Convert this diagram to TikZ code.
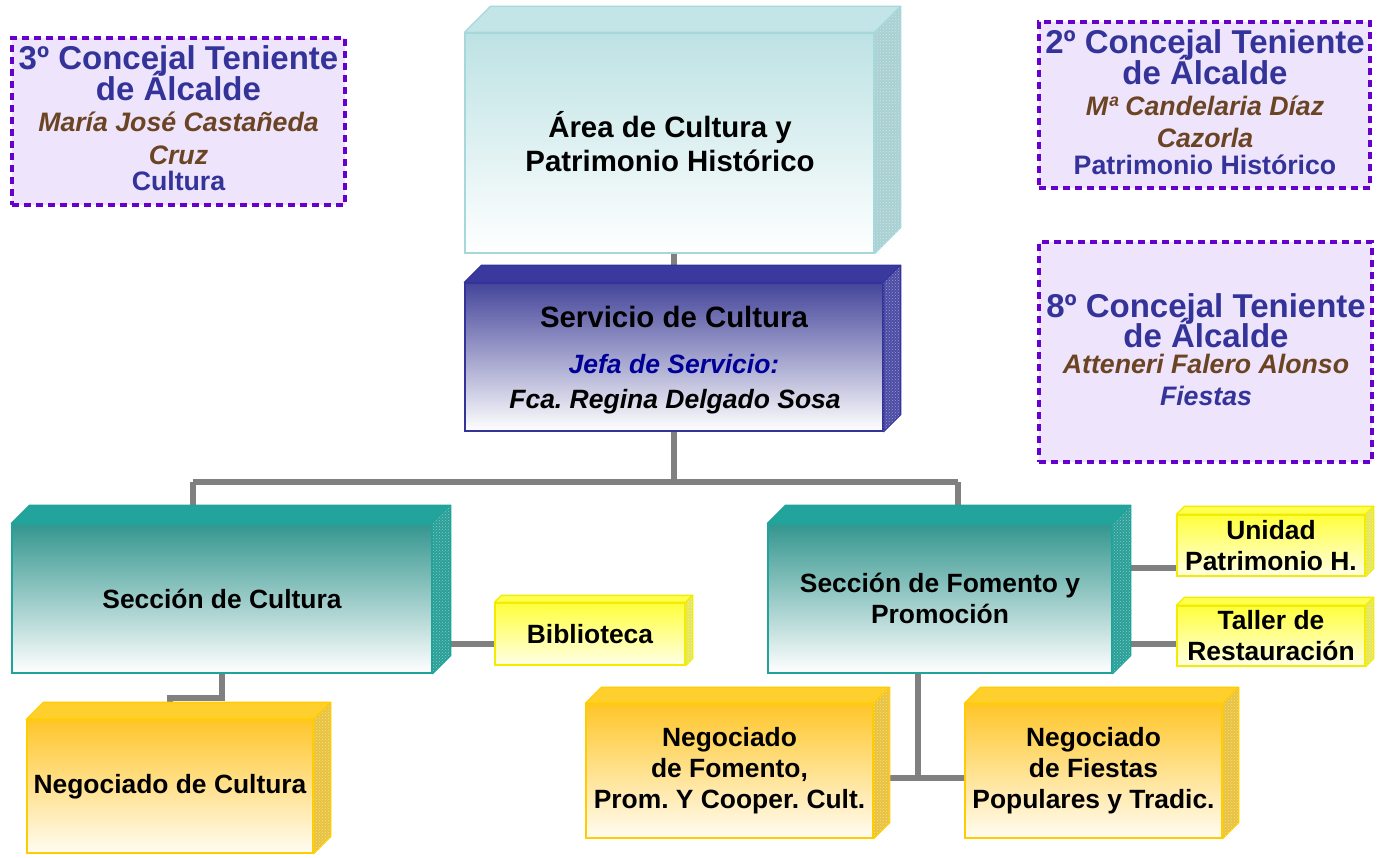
\documentclass[tikz,border=0pt]{standalone}
\usepackage{fontspec}
\setmainfont{Liberation Sans}
\usetikzlibrary{calc,patterns}
\pgfdeclarelayer{bg}
\pgfsetlayers{bg,main}
\frenchspacing
\definecolor{ttlblue}{HTML}{333399}
\definecolor{nmbrown}{HTML}{6B4423}
\definecolor{jefablue}{HTML}{000099}
\definecolor{dashpurple}{HTML}{6600CC}
\definecolor{lav}{HTML}{EEE4FC}
\definecolor{conngray}{HTML}{808080}
% area
\definecolor{areaTop}{HTML}{BDE2E4}
\definecolor{areaFace}{HTML}{C4E5E7}
\definecolor{areaSide}{HTML}{A9D0D2}
\definecolor{areaLine}{HTML}{A6D8DB}
% servicio
\definecolor{servTop}{HTML}{45459B}
\definecolor{servFace}{HTML}{3A3A9E}
\definecolor{servSide}{HTML}{4C4CA6}
\definecolor{servLine}{HTML}{333399}
% seccion
\definecolor{secTop}{HTML}{34968F}
\definecolor{secFace}{HTML}{22A39B}
\definecolor{secSide}{HTML}{2A9F98}
\definecolor{secLine}{HTML}{1FA39B}
% gold
\definecolor{goldTop}{HTML}{FFC62A}
\definecolor{goldBot}{HTML}{FFFCF2}
\definecolor{goldFace}{HTML}{FFCF2E}
\definecolor{goldSide}{HTML}{E9C23E}
\definecolor{goldLine}{HTML}{FFCC00}
% yellow
\definecolor{yelTop}{HTML}{FFFF3C}
\definecolor{yelBot}{HTML}{FFFFE6}
\definecolor{yelFace}{HTML}{FFFF50}
\definecolor{yelSide}{HTML}{E6E65A}
\definecolor{yelLine}{HTML}{F2EC00}

\newcommand{\cubefaces}[5]{%
  \filldraw[fill=#3,draw=#5,line width=1.3pt,line join=round]
    (#1.north west) -- ++(#2,-#2) -- ($(#1.north east)+(#2,-#2)$) -- (#1.north east) -- cycle;
  \filldraw[fill=#4,draw=#5,line width=1.3pt,line join=round]
    (#1.north east) -- ++(#2,-#2) -- ($(#1.south east)+(#2,-#2)$) -- (#1.south east) -- cycle;
  \fill[pattern=crosshatch dots,pattern color=white,opacity=0.45]
    (#1.north east) -- ++(#2,-#2) -- ($(#1.south east)+(#2,-#2)$) -- (#1.south east) -- cycle;
}

\begin{document}
\begin{tikzpicture}[x=1pt,y=-1pt,
  front/.style={rectangle,inner sep=0pt,line width=1.3pt,align=center,
     font=\fontsize{26.4}{31}\selectfont\bfseries,text=black},
  areabox/.style={front,draw=areaLine,top color=areaTop,bottom color=white},
  servbox/.style={front,draw=servLine,top color=servTop,bottom color=white},
  secbox/.style={front,draw=secLine,top color=secTop,bottom color=white},
  goldbox/.style={front,draw=goldLine,top color=goldTop,bottom color=goldBot},
  yelbox/.style={front,draw=yelLine,top color=yelTop,bottom color=yelBot},
  conn/.style={draw=conngray,line width=5.5pt},
  dashbox/.style={rectangle,inner sep=0pt,fill=lav,draw=dashpurple,line width=3.5pt,
     dash pattern=on 7pt off 5pt},
  ttl/.style={anchor=base,inner sep=0pt,font=\fontsize{33}{31}\selectfont\bfseries,text=ttlblue},
  nm/.style={anchor=base,inner sep=0pt,font=\fontsize{26.7}{30}\selectfont\bfseries\itshape,text=nmbrown},
  sb/.style={anchor=base,inner sep=0pt,font=\fontsize{26.7}{30}\selectfont\bfseries,text=ttlblue},
  bl/.style={anchor=base,inner sep=0pt,font=\fontsize{29.4}{32}\selectfont\bfseries,text=black}
]
\useasboundingbox (0,0) rectangle (1378,858);

% ---------- dashed councillor boxes
\node[dashbox,minimum width=333pt,minimum height=167pt] (c3) at (178.5,121.5) {};
\node[ttl] (c3a) at (178.5,70) {3º Concejal Teniente};
\node[ttl] (c3b) at (178.5,101) {de Álcalde};
\node[nm]  (c3c) at (178.5,132) {María José Castañeda};
\node[nm]  (c3d) at (178.5,165) {Cruz};
\node[sb]  (c3e) at (178.5,191) {Cultura};

\node[dashbox,minimum width=331pt,minimum height=166pt] (c2) at (1204.5,105) {};
\node[ttl] (c2a) at (1205,53.5) {2º Concejal Teniente};
\node[ttl] (c2b) at (1205,84.5) {de Álcalde};
\node[nm]  (c2c) at (1205,116) {Mª Candelaria Díaz};
\node[nm]  (c2d) at (1205,148) {Cazorla};
\node[sb]  (c2e) at (1205,175) {Patrimonio Histórico};

\node[dashbox,minimum width=333pt,minimum height=220pt] (c8) at (1205.5,352) {};
\node[ttl] (c8a) at (1206,318) {8º Concejal Teniente};
\node[ttl] (c8b) at (1206,348) {de Álcalde};
\node[nm]  (c8c) at (1206,373) {Atteneri Falero Alonso};
\node[sb,font=\fontsize{26.7}{30}\selectfont\bfseries\itshape] (c8d) at (1206,405) {Fiestas};

% ---------- cubes
\node[areabox,minimum width=409pt,minimum height=220pt] (area) at (669.5,143) {};
\cubefaces{area}{26}{areaFace}{areaSide}{areaLine}
\node[bl] (areaa) at (670,138) {Área de Cultura y};
\node[bl] (areab) at (670,172) {Patrimonio Histórico};

\node[servbox,minimum width=418pt,minimum height=148pt] (serv) at (674,357) {};
\cubefaces{serv}{17}{servFace}{servSide}{servLine}
\node[bl] (serva) at (674,328) {Servicio de Cultura};
\node[bl,font=\fontsize{26.5}{30}\selectfont\bfseries\itshape,text=jefablue] (servb) at (674,373) {Jefa de Servicio:};
\node[bl,font=\fontsize{26.5}{30}\selectfont\bfseries\itshape] (servc) at (675,408) {Fca. Regina Delgado Sosa};

\node[secbox,minimum width=420pt,minimum height=149pt] (seccul) at (222,598.5) {Sección de Cultura};
\cubefaces{seccul}{18}{secFace}{secSide}{secLine}

\node[secbox,minimum width=344pt,minimum height=149pt] (secfom) at (940,598.5) {Sección de Fomento y\\Promoción};
\cubefaces{secfom}{18}{secFace}{secSide}{secLine}

\node[yelbox,minimum width=190pt,minimum height=62pt] (biblio) at (590,634) {Biblioteca};
\cubefaces{biblio}{7}{yelFace}{yelSide}{yelLine}

\node[yelbox,minimum width=188pt,minimum height=61pt] (unidad) at (1271,545.5) {Unidad\\Patrimonio H.};
\cubefaces{unidad}{8}{yelFace}{yelSide}{yelLine}

\node[yelbox,minimum width=188pt,minimum height=60pt] (taller) at (1271,636) {Taller de\\Restauración};
\cubefaces{taller}{8}{yelFace}{yelSide}{yelLine}

\node[goldbox,minimum width=287pt,minimum height=134pt] (negfom) at (729.5,771) {Negociado\\de Fomento,\\Prom. Y Cooper. Cult.};
\cubefaces{negfom}{16}{goldFace}{goldSide}{goldLine}

\node[goldbox,minimum width=257pt,minimum height=134pt] (negfie) at (1093.5,771) {Negociado\\de Fiestas\\Populares y Tradic.};
\cubefaces{negfie}{16}{goldFace}{goldSide}{goldLine}

\node[goldbox,minimum width=286pt,minimum height=133pt] (negcul) at (170,786.5) {Negociado de Cultura};
\cubefaces{negcul}{17}{goldFace}{goldSide}{goldLine}

% ---------- connectors (behind)
\coordinate (jl) at (193,482);
\coordinate (jr) at (958,482);
\coordinate (k1) at (222,698);
\coordinate (k2) at (170,698);
\coordinate (bb) at (495,644);
\coordinate (uu) at (1177,568);
\coordinate (tt) at (1177,644);
\coordinate (ff) at (918,778);
\coordinate (fl) at (889,778);
\coordinate (fr) at (965,778);
\begin{pgfonlayer}{bg}
\fill[white] (0,0) rectangle (1378,858);
\draw[conn] (serv.north) -- (serv.north |- area.south);
\draw[conn] (serv.south) -- (serv.south |- jl);
\draw[conn] (jl) -- (jr);
\draw[conn] (jl) -- (jl |- seccul.north);
\draw[conn] (jr) -- (jr |- secfom.north);
\draw[conn] (k1 |- seccul.south) -- (k1) -- (k2) -- (k2 |- negcul.north);
\draw[conn] (bb -| seccul.east) -- (bb);
\draw[conn] (uu -| secfom.east) -- (uu);
\draw[conn] (tt -| secfom.east) -- (tt);
\draw[conn] (ff |- secfom.south) -- (ff);
\draw[conn] (fl) -- (fr);
\end{pgfonlayer}
\end{tikzpicture}
\end{document}
